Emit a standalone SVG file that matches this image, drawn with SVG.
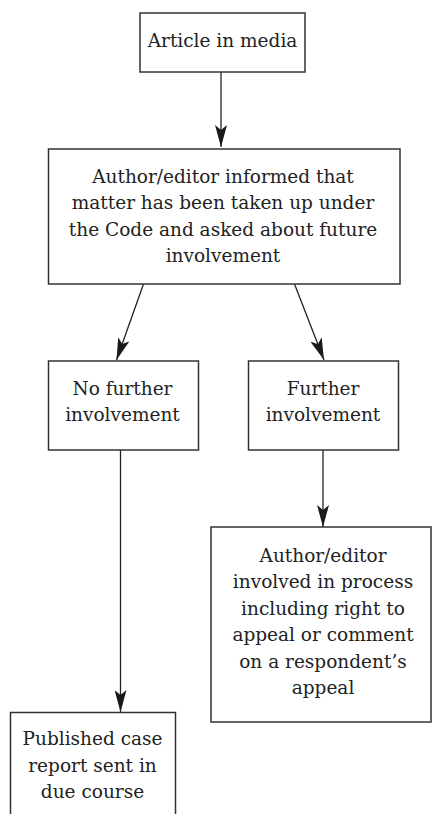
<svg xmlns="http://www.w3.org/2000/svg" width="433" height="814" viewBox="0 0 433 814">
<style>
  .box { fill: #ffffff; stroke: #333333; stroke-width: 1.5; }
  .lbl { font-family: "DejaVu Serif", "Liberation Serif", serif; font-size: 18.5px; fill: #222222; text-anchor: middle; }
  .edge { stroke: #222222; stroke-width: 1.3; fill: none; marker-end: url(#arrow); }
</style>
<defs>
  <marker id="arrow" viewBox="0 0 22 12" refX="22" refY="6" markerWidth="22" markerHeight="12" markerUnits="userSpaceOnUse" orient="auto">
    <path d="M0,0 L22,6 L0,12 L5,6 Z" fill="#1a1a1a"/>
  </marker>
</defs>
<rect width="433" height="814" fill="#ffffff"/>
<g id="connectors">
  <line class="edge" x1="221" y1="72" x2="221" y2="147"/>
  <line class="edge" x1="143.5" y1="284" x2="116.5" y2="360"/>
  <line class="edge" x1="294.5" y1="284" x2="324" y2="360"/>
  <line class="edge" x1="323" y1="450" x2="323" y2="527"/>
  <line class="edge" x1="120.5" y1="450" x2="120.5" y2="712"/>
</g>
<g id="n1">
  <rect class="box" x="140" y="13" width="165" height="59"/>
  <text class="lbl" x="222.5" y="47">Article in media</text>
</g>
<g id="n2">
  <rect class="box" x="48.5" y="149" width="351.5" height="135"/>
  <text class="lbl" x="223"><tspan x="223" y="183">Author/editor informed that</tspan><tspan x="223" y="209.3">matter has been taken up under</tspan><tspan x="223" y="235.6">the Code and asked about future</tspan><tspan x="223" y="262">involvement</tspan></text>
</g>
<g id="n3">
  <rect class="box" x="48.5" y="361" width="150" height="89"/>
  <text class="lbl"><tspan x="122.5" y="395">No further</tspan><tspan x="122.5" y="421.3">involvement</tspan></text>
</g>
<g id="n4">
  <rect class="box" x="248.5" y="361" width="150" height="89"/>
  <text class="lbl"><tspan x="323" y="395">Further</tspan><tspan x="323" y="421.3">involvement</tspan></text>
</g>
<g id="n5">
  <rect class="box" x="211" y="527" width="220" height="195"/>
  <text class="lbl"><tspan x="323" y="562">Author/editor</tspan><tspan x="323" y="588.4">involved in process</tspan><tspan x="323" y="614.8">including right to</tspan><tspan x="323" y="641.2">appeal or comment</tspan><tspan x="323" y="667.6">on a respondent’s</tspan><tspan x="323" y="694">appeal</tspan></text>
</g>
<g id="n6">
  <rect class="box" x="10.5" y="712.5" width="165" height="110"/>
  <text class="lbl"><tspan x="92.5" y="745">Published case</tspan><tspan x="92.5" y="771.7">report sent in</tspan><tspan x="92.5" y="798.3">due course</tspan></text>
</g>
</svg>
